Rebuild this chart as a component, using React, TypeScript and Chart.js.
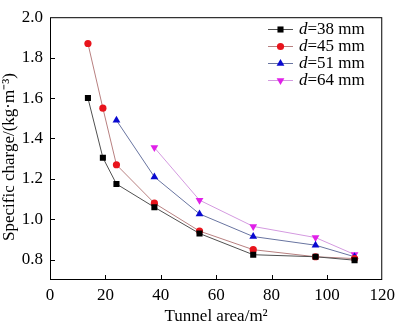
import React, { useEffect, useRef } from "react";
import { Chart, registerables } from "chart.js";

Chart.register(...registerables);

const areas = [13.7, 19.1, 24.0, 37.7, 54.0, 73.4, 95.9, 110.0];
const d38 = [1.60, 1.305, 1.175, 1.06, 0.93, 0.825, 0.815, 0.798];
const d45 = [1.87, 1.55, 1.27, 1.08, 0.942, 0.85, 0.815, 0.806];
const d51 = [null, null, 1.49, 1.21, 1.027, 0.915, 0.872, 0.815];
const d64 = [null, null, null, 1.355, 1.095, 0.965, 0.91, 0.826];
const xTicks = [0, 20, 40, 60, 80, 100, 120];
const yTicks = [0.8, 1.0, 1.2, 1.4, 1.6, 1.8, 2.0];
const legendLabels = ["=38 mm", "=45 mm", "=51 mm", "=64 mm"];
const yTitle = "Specific charge/(kg·m⁻³)";
const xTitle = "Tunnel area/m²";

const FONT = "'Liberation Serif', 'Times New Roman', serif";

type S = { vals: (number | null)[]; point: string; color: string; line: string; rot: number; r: number };
const seriesDefs: S[] = [
  { vals: d38, point: "rect", color: "#000000", line: "#505050", rot: 0, r: 4.3 },
  { vals: d45, point: "circle", color: "#e8141c", line: "#b88080", rot: 0, r: 3.6 },
  { vals: d51, point: "triangle", color: "#0a0ad0", line: "#6874a0", rot: 0, r: 4.5 },
  { vals: d64, point: "triangle", color: "#e020e8", line: "#d49ae0", rot: 180, r: 4.5 },
];

function drawMarker(ctx: CanvasRenderingContext2D, s: S, x: number, y: number) {
  ctx.save();
  ctx.fillStyle = s.color;
  ctx.beginPath();
  if (s.point === "rect") {
    const h = s.r * Math.SQRT1_2;
    ctx.rect(x - h, y - h, 2 * h, 2 * h);
  } else if (s.point === "circle") {
    ctx.arc(x, y, s.r, 0, Math.PI * 2);
  } else {
    const r = s.r;
    const sign = s.rot === 180 ? -1 : 1;
    ctx.moveTo(x, y - sign * r);
    ctx.lineTo(x + r * 0.866, y + sign * r * 0.5);
    ctx.lineTo(x - r * 0.866, y + sign * r * 0.5);
    ctx.closePath();
  }
  ctx.fill();
  ctx.restore();
}

const framePlugin = {
  id: "frame",
  afterDraw(chart: any) {
    const ctx: CanvasRenderingContext2D = chart.ctx;
    const { left, right, top, bottom } = chart.chartArea;
    const xs = chart.scales.x;
    const ys = chart.scales.y;
    ctx.save();
    ctx.strokeStyle = "#000";
    ctx.lineWidth = 1;
    ctx.strokeRect(left + 0.5, top + 0.5, right - left - 1, bottom - top - 1);
    ctx.beginPath();
    xTicks.forEach((t) => {
      if (t === 0 || t === 120) return;
      const px = Math.round(xs.getPixelForValue(t)) + 0.5;
      ctx.moveTo(px, bottom);
      ctx.lineTo(px, bottom - 5);
    });
    yTicks.forEach((t) => {
      if (t === 2.0) return;
      const py = Math.round(ys.getPixelForValue(t)) + 0.5;
      ctx.moveTo(left, py);
      ctx.lineTo(left + 5, py);
    });
    ctx.stroke();

    // y title
    ctx.save();
    ctx.translate(10, 157);
    ctx.rotate(-Math.PI / 2);
    ctx.fillStyle = "#000";
    ctx.font = `17px ${FONT}`;
    ctx.textAlign = "center";
    ctx.textBaseline = "middle";
    ctx.fillText(yTitle, 0, 0);
    ctx.restore();

    // legend
    const rows = [29, 46, 63, 80];
    seriesDefs.forEach((s, i) => {
      const y = rows[i];
      ctx.strokeStyle = s.line;
      ctx.lineWidth = 1;
      ctx.beginPath();
      ctx.moveTo(268, y + 0.5);
      ctx.lineTo(293, y + 0.5);
      ctx.stroke();
      drawMarker(ctx, s, 280.5, y + 0.5);
      ctx.fillStyle = "#000";
      ctx.textBaseline = "middle";
      ctx.textAlign = "left";
      ctx.font = `italic 17px ${FONT}`;
      ctx.fillText("d", 299, y + 1);
      const w = ctx.measureText("d").width;
      ctx.font = `17px ${FONT}`;
      ctx.fillText(legendLabels[i], 299 + w, y + 1);
    });
    ctx.restore();
  },
};

export default function App() {
  const ref = useRef<HTMLCanvasElement>(null);
  useEffect(() => {
    const datasets = seriesDefs.map((s, i) => ({
      label: legendLabels[i],
      data: areas
        .map((a, j) => ({ x: a, y: s.vals[j] }))
        .filter((p) => p.y !== null),
      borderColor: s.line,
      borderWidth: 1,
      backgroundColor: s.color,
      pointBackgroundColor: s.color,
      pointBorderColor: s.color,
      pointBorderWidth: 0,
      pointStyle: s.point,
      pointRotation: s.rot,
      pointRadius: s.r,
      tension: 0,
    }));
    const chart = new Chart(ref.current!, {
      type: "line",
      data: { datasets: datasets as any },
      options: {
        animation: false,
        responsive: false,
        layout: { padding: { top: 6, right: 8, left: 0, bottom: 0 } },
        plugins: { legend: { display: false }, tooltip: { enabled: false } },
        scales: {
          x: {
            type: "linear",
            min: 0,
            max: 120,
            afterBuildTicks: (sc: any) => {
              sc.ticks = xTicks.map((v) => ({ value: v }));
            },
            afterFit: (sc: any) => {
              sc.height = 45;
            },
            grid: { display: false, drawTicks: false },
            border: { display: false },
            ticks: { color: "#000", font: { family: FONT, size: 17 }, padding: 5, maxRotation: 0 },
            title: {
              display: true,
              text: xTitle,
              color: "#000",
              font: { family: FONT, size: 17, lineHeight: 1 },
              padding: { top: 0, bottom: 0 },
            },
          },
          y: {
            type: "linear",
            min: 0.7,
            max: 2.0,
            afterBuildTicks: (sc: any) => {
              sc.ticks = yTicks.map((v) => ({ value: v }));
            },
            afterFit: (sc: any) => {
              sc.width = 50;
            },
            grid: { display: false, drawTicks: false },
            border: { display: false },
            ticks: {
              color: "#000",
              font: { family: FONT, size: 17 },
              padding: 7,
              callback: (v: any) => Number(v).toFixed(1),
            },
            title: { display: false },
          },
        },
      },
      plugins: [framePlugin],
    });
    return () => chart.destroy();
  }, []);
  return (
    <div style={{ position: "fixed", left: 0, top: 0, width: 400, height: 325, background: "#fff" }}>
      <canvas ref={ref} width={400} height={325} style={{ width: 400, height: 325 }} />
    </div>
  );
}
